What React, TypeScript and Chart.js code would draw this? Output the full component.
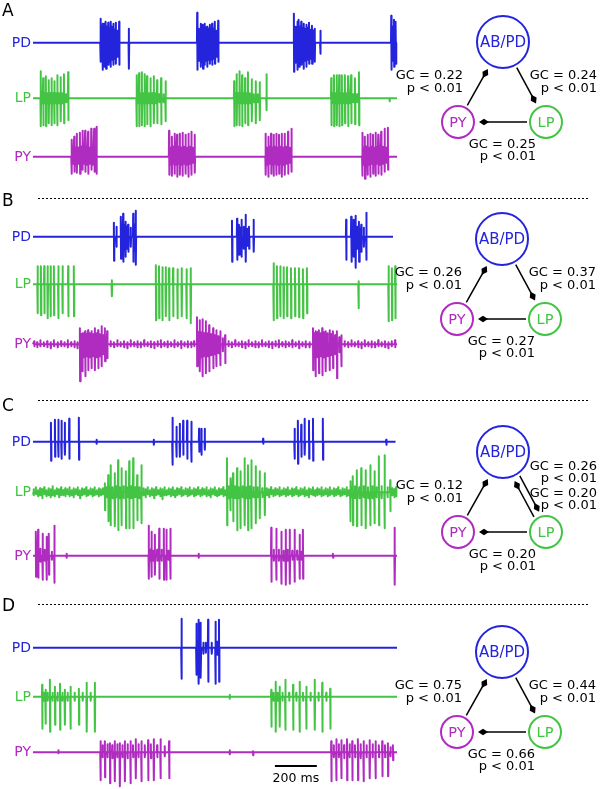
import React, { useEffect, useRef } from "react";
import { Chart, registerables } from "chart.js";

Chart.register(...registerables);

// ---------- data ----------
// spike events: [time (ms), upward amplitude, downward amplitude] in a.u.
type Spike = [number, number, number];

const TRACE_MS = 1735;
const SCALE_BAR_MS = 200;
const SCALE_BAR_START_MS = 1153;
const P_TEXT = "p < 0.01";

const pdA: Spike[] = [
  [322, 24, 19], [332, 19, 27], [340, 19, 24], [348, 21, 26], [359, 20, 22], [370, 21, 24], [383, 19, 22], [395, 20, 21], [411, 21, 22], [457, 14, 26],
  [783, 30, 27], [800, 19, 24], [810, 18, 26], [819, 19, 22], [830, 16, 24], [843, 18, 21], [854, 19, 22], [867, 21, 21], [883, 22, 19],
  [1244, 29, 29], [1260, 21, 27], [1268, 23, 24], [1279, 21, 22], [1290, 19, 26], [1303, 18, 24], [1316, 20, 21], [1330, 17, 21], [1343, 14, 19], [1370, 12, 11],
  [1708, 27, 27], [1721, 23, 24], [1730, 21, 21],
];
const pdAFill: Spike[] = [
  [327, 16, 18], [336, 15, 20], [344, 17, 19], [353, 16, 18], [364, 15, 19], [376, 16, 17], [389, 13, 16], [403, 12, 14],
  [791, 14, 18], [805, 15, 19], [814, 14, 18], [824, 15, 18], [836, 14, 17], [848, 15, 17], [860, 14, 16], [875, 12, 14],
  [1252, 16, 20], [1264, 17, 19], [1273, 16, 18], [1284, 15, 19], [1296, 14, 18], [1309, 15, 17], [1323, 13, 16], [1336, 12, 15],
  [1714, 16, 18], [1725, 15, 17],
];
const lpA: Spike[] = [
  [37, 27, 28], [49, 20, 27], [62, 22, 28], [75, 18, 25], [89, 20, 27], [102, 17, 25], [116, 23, 27], [132, 21, 23], [148, 24, 25], [168, 26, 22],
  [494, 23, 28], [506, 25, 28], [519, 26, 27], [532, 24, 28], [544, 22, 26], [560, 20, 28], [576, 22, 25], [592, 18, 25], [611, 20, 26], [632, 17, 23],
  [959, 17, 28], [971, 24, 27], [984, 27, 27], [997, 23, 28], [1011, 20, 25], [1025, 26, 27], [1043, 19, 23], [1062, 17, 25], [1081, 16, 22], [1113, 24, 12],
  [1422, 20, 27], [1435, 23, 28], [1448, 23, 27], [1460, 23, 28], [1473, 23, 27], [1487, 23, 25], [1502, 22, 28], [1517, 23, 25], [1535, 20, 26], [1554, 26, 27],
  [1700, 0, 3],
];
const lpAFill: Spike[] = [
  [43, 5, 5], [56, 5, 5], [69, 5, 5], [82, 5, 5], [96, 5, 5], [109, 5, 5], [124, 5, 5], [140, 5, 5], [158, 4, 4],
  [500, 5, 5], [513, 5, 5], [526, 5, 5], [538, 5, 5], [552, 5, 5], [568, 5, 5], [584, 5, 5], [602, 4, 4], [622, 4, 4],
  [965, 5, 5], [978, 5, 5], [991, 5, 5], [1004, 5, 5], [1018, 5, 5], [1034, 5, 5], [1052, 4, 4], [1072, 4, 4],
  [1428, 5, 5], [1442, 5, 5], [1454, 5, 5], [1467, 5, 5], [1480, 5, 5], [1495, 5, 5], [1510, 5, 5], [1526, 4, 4], [1545, 4, 4],
];
const pyA: Spike[] = [
  [184, 17, 17], [197, 20, 15], [209, 23, 16], [224, 24, 17], [236, 26, 13], [249, 26, 15], [263, 25, 17], [278, 28, 13], [292, 28, 15], [303, 30, 17],
  [649, 26, 18], [662, 20, 19], [675, 23, 17], [687, 22, 20], [700, 23, 18], [713, 24, 19], [727, 22, 17], [741, 23, 20], [755, 25, 18], [771, 22, 16],
  [1109, 23, 18], [1122, 20, 20], [1135, 23, 17], [1147, 22, 19], [1160, 23, 18], [1173, 22, 17], [1186, 23, 20], [1200, 23, 18], [1216, 25, 17], [1232, 28, 15],
  [1570, 24, 19], [1582, 20, 22], [1595, 22, 18], [1608, 23, 20], [1621, 22, 17], [1633, 24, 19], [1646, 22, 17], [1660, 25, 18], [1676, 28, 15], [1692, 29, 13],
];
const pyAFill: Spike[] = [
  [190, 8, 7], [203, 9, 8], [216, 9, 7], [230, 10, 8], [242, 9, 7], [256, 10, 8], [270, 9, 7], [285, 10, 8], [297, 9, 7],
  [655, 9, 8], [668, 10, 7], [681, 9, 8], [693, 10, 7], [706, 9, 8], [720, 10, 7], [734, 9, 8], [748, 10, 7], [763, 9, 6],
  [1115, 9, 8], [1128, 10, 7], [1141, 9, 8], [1153, 10, 7], [1166, 9, 8], [1179, 10, 7], [1193, 9, 8], [1208, 10, 7], [1224, 9, 6],
  [1576, 9, 8], [1588, 10, 7], [1601, 9, 8], [1614, 10, 7], [1627, 9, 8], [1640, 10, 7], [1653, 9, 8], [1668, 10, 7], [1684, 9, 6],
];

const pdB: Spike[] = [
  [386, 14, 24], [398, 10, 10], [419, 20, 22], [430, 23, 25], [441, 15, 20], [454, 12, 15], [478, 23, 25], [490, 26, 28],
  [949, 16, 25], [973, 18, 23], [982, 12, 18], [994, 17, 20], [1014, 22, 25], [1030, 10, 12], [1052, 17, 15],
  [1493, 17, 23], [1517, 20, 25], [1528, 17, 20], [1538, 21, 31], [1554, 15, 25], [1565, 12, 15], [1589, 24, 23],
];
const pdBFill: Spike[] = [
  [425, 12, 14], [436, 11, 13], [447, 10, 12], [466, 9, 10], [484, 12, 14], [988, 9, 11], [1004, 10, 12], [1022, 8, 9],
  [1522, 10, 12], [1533, 11, 13], [1546, 10, 12], [1560, 8, 10], [1577, 9, 10],
];
const lpB: Spike[] = [
  [22, 18, 29], [38, 18, 31], [54, 18, 29], [70, 18, 34], [84, 18, 32], [100, 18, 31], [121, 18, 34], [141, 18, 29], [168, 18, 32], [195, 18, 32],
  [376, 4, 12],
  [586, 19, 36], [601, 18, 34], [617, 17, 36], [633, 17, 32], [649, 16, 36], [668, 16, 32], [689, 15, 34], [709, 16, 32], [732, 15, 34], [752, 16, 39],
  [1147, 21, 36], [1163, 18, 34], [1179, 18, 32], [1195, 17, 34], [1211, 17, 32], [1230, 16, 34], [1249, 16, 32], [1268, 16, 33], [1287, 15, 34], [1306, 16, 29],
  [1552, 3, 24],
  [1695, 18, 37], [1711, 16, 36], [1727, 18, 34],
];
const pyB: Spike[] = [
  [224, 16, 37], [236, 11, 27], [249, 13, 32], [263, 14, 26], [279, 13, 24], [295, 16, 26], [311, 14, 24], [327, 18, 22], [343, 16, 17], [354, 13, 14],
  [782, 27, 22], [795, 24, 27], [808, 25, 32], [824, 23, 29], [840, 19, 27], [859, 16, 24], [874, 14, 22], [893, 13, 21], [916, 9, 19],
  [1335, 16, 26], [1347, 13, 32], [1363, 14, 29], [1379, 16, 31], [1395, 13, 27], [1414, 14, 26], [1430, 13, 24], [1449, 13, 34], [1470, 9, 22],
];
const pyBFill: Spike[] = [
  [230, 10, 12], [242, 11, 13], [256, 10, 12], [271, 11, 13], [287, 10, 12], [303, 11, 13], [319, 10, 12], [335, 9, 10], [349, 7, 8],
  [788, 12, 12], [801, 12, 13], [816, 11, 12], [832, 11, 12], [849, 10, 11], [866, 9, 10], [883, 8, 9], [905, 6, 7],
  [1341, 11, 12], [1355, 12, 13], [1371, 11, 12], [1387, 12, 13], [1404, 11, 12], [1422, 10, 11], [1440, 9, 10], [1460, 7, 8],
];
const pyBNoise: Spike[] = [
  [6, 3, 2], [20, 2, 3], [35, 4, 2], [52, 2, 2], [68, 3, 3], [85, 2, 4], [100, 4, 2], [118, 2, 3], [134, 3, 2], [150, 2, 2], [166, 4, 3], [182, 2, 2], [198, 3, 3], [212, 2, 4],
  [370, 3, 2], [386, 2, 3], [402, 4, 2], [418, 2, 2], [434, 3, 3], [450, 2, 4], [466, 4, 2], [482, 2, 2], [498, 3, 3], [514, 2, 3], [530, 4, 2], [546, 2, 2], [562, 3, 3], [578, 2, 4], [594, 3, 2], [610, 4, 3], [626, 2, 2], [642, 3, 3], [658, 2, 2], [674, 4, 3], [690, 2, 2], [706, 3, 4], [722, 2, 2], [738, 3, 3], [754, 2, 3], [768, 3, 2],
  [932, 3, 2], [948, 2, 3], [964, 4, 2], [980, 2, 2], [996, 3, 3], [1012, 2, 4], [1028, 4, 2], [1044, 2, 2], [1060, 3, 3], [1076, 2, 3], [1092, 4, 2], [1108, 2, 2], [1124, 3, 3], [1140, 2, 4], [1156, 3, 2], [1172, 4, 3], [1188, 2, 2], [1204, 3, 3], [1220, 2, 2], [1236, 4, 3], [1252, 2, 2], [1268, 3, 4], [1284, 2, 2], [1300, 3, 3], [1318, 2, 3],
  [1486, 3, 2], [1502, 2, 3], [1518, 4, 2], [1534, 2, 2], [1550, 3, 3], [1566, 2, 4], [1582, 4, 2], [1598, 2, 2], [1614, 3, 3], [1630, 2, 3], [1646, 4, 2], [1662, 2, 2], [1678, 3, 3], [1694, 2, 4], [1710, 3, 2], [1726, 4, 3],
];

const pdC: Spike[] = [
  [86, 19, 19], [105, 22, 15], [121, 22, 15], [136, 21, 17], [152, 19, 13], [173, 23, 17], [219, 24, 18], [303, 2, 2], [576, 2, 3],
  [665, 24, 23], [684, 15, 15], [700, 18, 15], [716, 21, 13], [735, 21, 17], [755, 20, 20], [792, 13, 10], [803, 13, 13], [819, 13, 8], [1097, 3, 2],
  [1247, 13, 17], [1263, 21, 22], [1279, 17, 15], [1295, 23, 13], [1316, 21, 17], [1335, 23, 19], [1382, 23, 18], [1684, 2, 3],
];
const lpC: Spike[] = [
  [343, 9, 18], [359, 17, 29], [370, 27, 33], [390, 19, 34], [406, 32, 38], [422, 24, 33], [443, 21, 36], [459, 31, 36], [478, 34, 36], [497, 17, 28], [517, 27, 31],
  [925, 34, 33], [941, 14, 18], [954, 19, 29], [973, 24, 38], [989, 21, 36], [1009, 34, 33], [1025, 27, 38], [1041, 32, 36], [1062, 26, 31], [1081, 21, 26], [1105, 19, 23],
  [1513, 11, 29], [1525, 16, 33], [1544, 22, 34], [1565, 24, 33], [1586, 22, 36], [1608, 27, 33], [1628, 21, 31], [1649, 36, 33], [1676, 37, 36], [1703, 12, 19],
];
const lpCNoise: Spike[] = [
  [4, 3, 3], [14, 5, 2], [24, 2, 4], [34, 4, 3], [44, 3, 6], [54, 5, 2], [64, 2, 4], [74, 4, 3], [84, 3, 5], [94, 6, 3], [104, 2, 4], [114, 4, 2], [124, 3, 5], [134, 5, 3], [144, 2, 3], [154, 4, 4], [164, 3, 2], [174, 5, 4], [184, 2, 3], [194, 4, 5], [204, 3, 2], [214, 5, 3], [224, 2, 6], [234, 4, 3], [244, 3, 2], [254, 5, 4], [264, 2, 3], [274, 4, 2], [284, 3, 4], [294, 5, 3], [304, 2, 2], [314, 4, 4], [324, 3, 3], [334, 4, 2],
  [350, 5, 5], [364, 6, 6], [380, 5, 6], [398, 6, 5], [414, 5, 6], [432, 6, 6], [451, 5, 5], [468, 6, 6], [487, 5, 5], [507, 5, 6],
  [527, 4, 3], [537, 3, 5], [547, 5, 2], [557, 2, 4], [567, 4, 3], [577, 3, 6], [587, 5, 3], [597, 2, 2], [607, 4, 4], [617, 3, 7], [627, 5, 3], [637, 2, 3], [647, 4, 2], [657, 3, 4], [667, 5, 3], [677, 2, 5], [687, 4, 3], [697, 3, 2], [707, 5, 4], [717, 2, 3], [727, 4, 2], [737, 3, 4], [747, 5, 3], [757, 2, 2], [767, 4, 4], [777, 3, 3], [787, 5, 2], [797, 2, 4], [807, 4, 3], [817, 3, 2], [827, 5, 4], [837, 2, 3], [847, 4, 5], [857, 3, 2], [867, 5, 3], [877, 2, 4], [887, 4, 3], [897, 3, 2], [907, 5, 4], [917, 2, 3],
  [933, 6, 6], [947, 5, 5], [963, 6, 6], [981, 5, 6], [999, 6, 5], [1017, 5, 6], [1033, 6, 6], [1051, 5, 5], [1071, 5, 5], [1093, 4, 5],
  [1115, 4, 3], [1125, 3, 5], [1135, 5, 2], [1145, 2, 4], [1155, 4, 3], [1165, 3, 2], [1175, 5, 4], [1185, 2, 3], [1195, 4, 2], [1205, 3, 4], [1215, 5, 3], [1225, 2, 2], [1235, 4, 4], [1245, 3, 3], [1255, 5, 2], [1265, 2, 4], [1275, 4, 3], [1285, 3, 2], [1295, 5, 4], [1305, 2, 3], [1315, 4, 5], [1325, 3, 2], [1335, 5, 3], [1345, 2, 4], [1355, 4, 3], [1365, 3, 2], [1375, 5, 4], [1385, 2, 3], [1395, 4, 2], [1405, 3, 4], [1415, 5, 3], [1425, 2, 2], [1435, 4, 4], [1445, 3, 3], [1455, 5, 2], [1465, 2, 4], [1475, 4, 3], [1485, 3, 2], [1495, 5, 4], [1505, 2, 3],
  [1519, 5, 5], [1535, 6, 6], [1555, 5, 6], [1576, 6, 5], [1597, 5, 6], [1618, 6, 6], [1638, 5, 5], [1662, 6, 6], [1690, 5, 5],
  [1712, 4, 3], [1722, 3, 5], [1731, 5, 4],
];
const pyC: Spike[] = [
  [14, 24, 21], [25, 26, 22], [46, 22, 24], [65, 19, 24], [76, 22, 19], [102, 30, 27], [160, 2, 2],
  [552, 30, 23], [565, 24, 21], [581, 21, 19], [602, 27, 23], [624, 27, 24], [636, 26, 24], [655, 27, 23], [790, 2, 2],
  [1136, 28, 26], [1160, 27, 24], [1184, 24, 28], [1205, 26, 29], [1224, 26, 28], [1247, 26, 26], [1271, 21, 23], [1287, 26, 23], [1430, 2, 2],
  [1724, 28, 29],
];
const pyCFill: Spike[] = [
  [20, 6, 5], [35, 7, 6], [56, 6, 5], [70, 5, 4], [90, 4, 4],
  [559, 6, 5], [573, 5, 5], [592, 6, 5], [613, 6, 5], [645, 5, 4],
  [1148, 6, 5], [1172, 6, 5], [1195, 5, 5], [1214, 6, 5], [1236, 5, 4], [1259, 5, 4], [1279, 4, 4],
];

const pdD: Spike[] = [
  [708, 29, 31], [779, 24, 27], [790, 28, 36], [800, 25, 30], [835, 28, 34], [870, 26, 36], [887, 28, 34],
];
const pdDFill: Spike[] = [
  [785, 8, 8], [796, 7, 9], [812, 5, 6], [824, 5, 5], [852, 5, 6], [878, 6, 7],
];
const lpD: Spike[] = [
  [44, 12, 32], [60, 7, 27], [81, 17, 35], [105, 10, 28], [129, 13, 33], [152, 7, 28], [179, 10, 32], [219, 8, 28], [256, 14, 35], [295, 14, 35],
  [938, 2, 2],
  [1136, 7, 30], [1157, 15, 35], [1176, 10, 30], [1203, 17, 33], [1240, 12, 33], [1271, 15, 35], [1303, 10, 32], [1343, 17, 33], [1379, 14, 35], [1417, 8, 32],
];
const lpDFill: Spike[] = [
  [52, 4, 4], [70, 4, 4], [93, 4, 4], [117, 4, 4], [140, 4, 4], [165, 4, 4], [199, 4, 4], [237, 4, 4], [275, 4, 4],
  [1146, 4, 4], [1166, 4, 4], [1189, 4, 4], [1221, 4, 4], [1255, 4, 4], [1287, 4, 4], [1323, 4, 4], [1361, 4, 4], [1398, 4, 4],
];
const pyD: Spike[] = [
  [121, 2, 1],
  [322, 11, 28], [343, 11, 25], [367, 9, 31], [390, 11, 29], [414, 9, 34], [438, 11, 29], [465, 11, 31], [490, 13, 26], [517, 11, 29], [549, 12, 28], [576, 13, 28], [608, 13, 26], [649, 11, 26],
  [938, 2, 2], [1049, 1, 3],
  [1422, 11, 29], [1446, 13, 28], [1470, 12, 26], [1497, 13, 28], [1522, 11, 28], [1549, 13, 28], [1576, 11, 29], [1605, 12, 26], [1633, 11, 26], [1665, 11, 24], [1692, 9, 24], [1716, 7, 8],
];
const pyDFill: Spike[] = [
  [332, 7, 5], [355, 8, 5], [378, 7, 6], [402, 8, 5], [426, 7, 5], [451, 8, 6], [477, 7, 5], [503, 8, 5], [533, 7, 5], [562, 8, 6], [592, 7, 5], [628, 6, 4],
  [1434, 7, 5], [1458, 8, 5], [1483, 7, 6], [1509, 8, 5], [1535, 7, 5], [1562, 8, 6], [1590, 7, 5], [1619, 8, 5], [1649, 7, 5], [1678, 7, 5], [1704, 5, 4],
];

// network edges: [source, target, Granger causality]
type Edge = [string, string, number];
const netA: Edge[] = [["PY", "AB/PD", 0.22], ["AB/PD", "LP", 0.24], ["LP", "PY", 0.25]];
const netB: Edge[] = [["PY", "AB/PD", 0.26], ["AB/PD", "LP", 0.37], ["LP", "PY", 0.27]];
const netC: Edge[] = [["PY", "AB/PD", 0.12], ["AB/PD", "LP", 0.26], ["LP", "AB/PD", 0.2], ["LP", "PY", 0.2]];
const netD: Edge[] = [["PY", "AB/PD", 0.75], ["AB/PD", "LP", 0.44], ["LP", "PY", 0.66]];

const panelLetters = ["A", "B", "C", "D"];
const cellNames = ["PD", "LP", "PY"];

// ---------- styles / layout ----------
const COLORS: Record<string, string> = {
  PD: "#2424dc",
  "AB/PD": "#2424dc",
  LP: "#44c444",
  PY: "#b02cc0",
};
const FONT = "'DejaVu Sans', sans-serif";
const TRACE_LEFT = 33;
const TRACE_RIGHT = 397;
const W = 600;
const H = 789;

// baselines (px) of PD, LP, PY rows in each panel
const ROW_Y = [
  [42.7, 98.3, 156.7],
  [236.7, 284.3, 344.3],
  [441.7, 492.3, 555.7],
  [647.7, 696.7, 752.3],
];
const LETTER_Y = [16, 206, 411, 611];
const SEP_Y = [198, 400, 604];
const NET_ORIGIN = [
  [503, 42],
  [502, 239],
  [503, 452],
  [502, 652],
];
const NODE_OFF: Record<string, [number, number]> = { "AB/PD": [0, 0], PY: [-45, 80], LP: [43, 80] };
const NODE_R: Record<string, number> = { "AB/PD": 26, PY: 16, LP: 16 };

const panels = [
  { traces: [[pdA, pdAFill], [lpA, lpAFill], [pyA, pyAFill]], end: [TRACE_MS, TRACE_MS, TRACE_MS], net: netA },
  { traces: [[pdB, pdBFill], [lpB], [pyB, pyBFill, pyBNoise]], end: [1716, TRACE_MS, TRACE_MS], net: netB },
  { traces: [[pdC], [lpC, lpCNoise], [pyC, pyCFill]], end: [1728, TRACE_MS, TRACE_MS], net: netC },
  { traces: [[pdD, pdDFill], [lpD, lpDFill], [pyD, pyDFill]], end: [TRACE_MS, TRACE_MS, TRACE_MS], net: netD },
];

function buildTrace(parts: Spike[][], base: number, end: number) {
  const all: Spike[] = ([] as Spike[]).concat(...parts).sort((a, b) => a[0] - b[0]);
  const pts: { x: number; y: number }[] = [{ x: 0, y: base }];
  for (const [t, up, dn] of all) {
    pts.push({ x: t - 1.6, y: base });
    pts.push({ x: t - 0.5, y: base - up });
    pts.push({ x: t + 0.5, y: base + dn });
    pts.push({ x: t + 1.6, y: base });
  }
  pts.push({ x: end, y: base });
  return pts;
}

const overlayPlugin = {
  id: "overlay",
  afterDatasetsDraw(chart: any) {
    const ctx: CanvasRenderingContext2D = chart.ctx;
    const xs = chart.scales.x;
    const ys = chart.scales.y;
    ctx.save();
    // panel letters
    ctx.fillStyle = "#000";
    ctx.font = `17px ${FONT}`;
    ctx.textAlign = "left";
    ctx.textBaseline = "alphabetic";
    panelLetters.forEach((l, i) => ctx.fillText(l, 2, LETTER_Y[i]));
    // separators
    ctx.strokeStyle = "#000";
    ctx.lineWidth = 1;
    ctx.setLineDash([2, 2]);
    SEP_Y.forEach((y) => {
      ctx.beginPath();
      ctx.moveTo(38, y + 0.5);
      ctx.lineTo(588, y + 0.5);
      ctx.stroke();
    });
    ctx.setLineDash([]);
    // row labels
    ctx.font = `14px ${FONT}`;
    ctx.textAlign = "right";
    ctx.textBaseline = "middle";
    ROW_Y.forEach((rows) =>
      rows.forEach((y, j) => {
        ctx.fillStyle = COLORS[cellNames[j]];
        ctx.fillText(cellNames[j], xs.left - 2, ys.getPixelForValue(y) + 0.5);
      })
    );
    // scale bar
    const x0 = xs.getPixelForValue(SCALE_BAR_START_MS);
    const x1 = xs.getPixelForValue(SCALE_BAR_START_MS + SCALE_BAR_MS);
    ctx.strokeStyle = "#000";
    ctx.lineWidth = 2;
    ctx.beginPath();
    ctx.moveTo(x0, 766);
    ctx.lineTo(x1, 766);
    ctx.stroke();
    ctx.fillStyle = "#000";
    ctx.font = `12.5px ${FONT}`;
    ctx.textAlign = "center";
    ctx.textBaseline = "middle";
    ctx.fillText(`${SCALE_BAR_MS} ms`, (x0 + x1) / 2, 779);

    // networks
    panels.forEach((p, i) => {
      const [ox, oy] = NET_ORIGIN[i];
      const pos = (n: string) => [ox + NODE_OFF[n][0], oy + NODE_OFF[n][1]];
      const keys = new Set(p.net.map((e) => e[0] + ">" + e[1]));
      // nodes
      Object.keys(NODE_OFF).forEach((n) => {
        const [cx, cy] = pos(n);
        ctx.strokeStyle = COLORS[n];
        ctx.lineWidth = 2;
        ctx.beginPath();
        ctx.arc(cx, cy, NODE_R[n], 0, Math.PI * 2);
        ctx.stroke();
        ctx.fillStyle = COLORS[n];
        ctx.font = `${n === "AB/PD" ? 15 : 14.5}px ${FONT}`;
        ctx.textAlign = "center";
        ctx.textBaseline = "middle";
        ctx.fillText(n, cx, cy + 1);
      });
      // edges
      p.net.forEach(([s, t, gc]) => {
        const [sx, sy] = pos(s);
        const [tx, ty] = pos(t);
        const bidir = keys.has(t + ">" + s);
        const off = bidir ? -3.5 : 0;
        const dx = tx - sx;
        const dy = ty - sy;
        const L = Math.hypot(dx, dy);
        const ux = dx / L;
        const uy = dy / L;
        const px = -uy;
        const py = ux;
        const ax = sx + ux * (NODE_R[s] + 3) + px * off;
        const ay = sy + uy * (NODE_R[s] + 3) + py * off;
        const ex = tx - ux * (NODE_R[t] + 5) + px * off;
        const ey = ty - uy * (NODE_R[t] + 5) + py * off;
        ctx.strokeStyle = "#000";
        ctx.lineWidth = 1.5;
        ctx.beginPath();
        ctx.moveTo(ax, ay);
        ctx.lineTo(ex - ux * 8, ey - uy * 8);
        ctx.stroke();
        ctx.fillStyle = "#000";
        ctx.beginPath();
        ctx.moveTo(ex, ey);
        ctx.lineTo(ex - ux * 5 + px * 3.3, ey - uy * 5 + py * 3.3);
        ctx.lineTo(ex - ux * 10, ey - uy * 10);
        ctx.lineTo(ex - ux * 5 - px * 3.3, ey - uy * 5 - py * 3.3);
        ctx.closePath();
        ctx.fill();
        // labels
        const key = s + ">" + t;
        let lx = 0;
        let l1 = 0;
        let l2 = 0;
        if (key === "PY>AB/PD") {
          lx = ox - 40; l1 = oy + 34; l2 = oy + 47;
        } else if (key === "AB/PD>LP") {
          lx = ox + 94; l1 = oy + (bidir ? 15 : 34); l2 = oy + (bidir ? 27 : 47);
        } else if (key === "LP>AB/PD") {
          lx = ox + 94; l1 = oy + 42; l2 = oy + 54;
        } else {
          lx = ox + 33; l1 = oy + 80 + 23; l2 = oy + 80 + 35;
        }
        ctx.fillStyle = "#000";
        ctx.font = `13px ${FONT}`;
        ctx.textAlign = "right";
        ctx.textBaseline = "middle";
        ctx.fillText(`GC = ${gc.toFixed(2)}`, lx, l1);
        ctx.fillText(P_TEXT, lx, l2);
      });
    });
    ctx.restore();
  },
};

export default function App() {
  const ref = useRef<HTMLCanvasElement | null>(null);
  useEffect(() => {
    if (!ref.current) return;
    const datasets: any[] = [];
    panels.forEach((p, i) => {
      p.traces.forEach((parts, j) => {
        datasets.push({
          label: `${panelLetters[i]} ${cellNames[j]}`,
          data: buildTrace(parts as Spike[][], ROW_Y[i][j], p.end[j]),
          borderColor: COLORS[cellNames[j]],
          borderWidth: 2,
          pointRadius: 0,
          tension: 0,
          fill: false,
          clip: false,
          borderJoinStyle: "round",
        });
      });
    });
    const chart = new Chart(ref.current, {
      type: "line",
      data: { datasets },
      options: {
        animation: false,
        responsive: false,
        events: [],
        layout: { padding: { left: TRACE_LEFT, right: W - TRACE_RIGHT, top: 0, bottom: 0 } },
        plugins: { legend: { display: false }, tooltip: { enabled: false } },
        scales: {
          x: { type: "linear", min: 0, max: TRACE_MS, display: false },
          y: { type: "linear", min: 0, max: H, reverse: true, display: false },
        },
      },
      plugins: [overlayPlugin],
    });
    return () => chart.destroy();
  }, []);
  return (
    <div style={{ position: "fixed", left: 0, top: 0, width: W, height: H, background: "#fff" }}>
      <canvas ref={ref} width={W} height={H} style={{ display: "block", width: W, height: H }} />
    </div>
  );
}
